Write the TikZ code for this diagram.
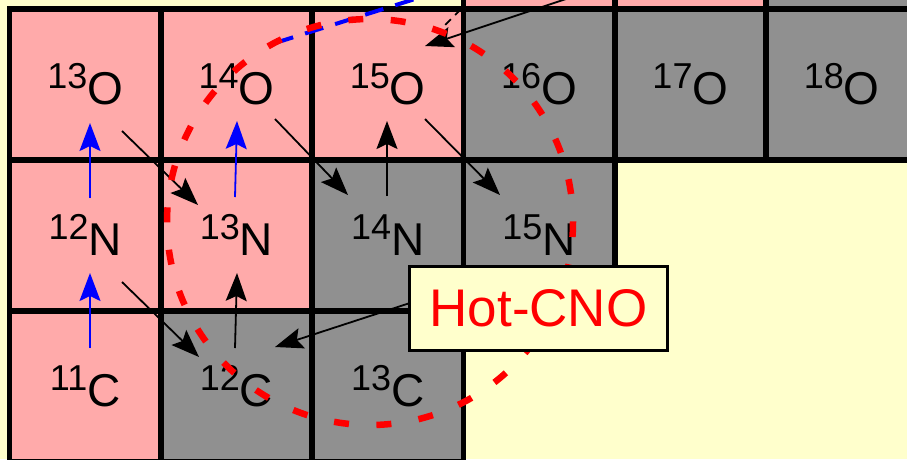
\documentclass[tikz,border=0pt]{standalone}
\usepackage{fontspec}
\setmainfont{Liberation Sans}
\usetikzlibrary{arrows.meta,calc}
\definecolor{Paper}{HTML}{FFFFCC}
\definecolor{Unstable}{HTML}{FFAAAA}
\definecolor{Stable}{HTML}{909090}
\newcommand{\iso}[2]{{\fontsize{36}{36}\selectfont\raisebox{16pt}{#1}}{\fontsize{46}{46}\selectfont #2}}

\begin{document}
\begin{tikzpicture}[
        x=1pt, y=-1pt,
        nuclide/.style={draw=black, line width=5.5pt, minimum width=151.3pt, minimum height=151pt,
          inner sep=0pt, text=black},
        unstable/.style={nuclide, fill=Unstable},
        stable/.style={nuclide, fill=Stable},
        arrow/.style={-{Stealth[length=28pt, width=21pt, inset=5pt]}, line width=1.8pt, draw=black},
        bluearrow/.style={arrow, draw=blue, fill=blue},
        breakout/.style={line width=4pt, draw=blue, dash pattern=on 19pt off 12.5pt},
        hotloop/.style={line width=6.5pt, draw=red, dash pattern=on 15pt off 27.5pt},
        tag/.style={draw=black, line width=2.7pt, fill=Paper, minimum width=258pt, minimum height=84pt,
          text=red, font=\fontsize{53}{53}\selectfont}
      ]
        \useasboundingbox (0,0) rectangle (907,459);
        \clip (0,0) rectangle (907,459);
        \fill[Paper] (0,0) rectangle (907,459);
        % fluorine row (cut off at the top)
        \node[unstable] (F17) at (539.1,-66.7) {};
        \node[unstable] (F18) at (690.4,-66.7) {};
        \node[stable] (F19) at (841.7,-66.7) {};
        % oxygen
        \node[unstable] (O13) at (85.2,84.3) {\iso{13}{O}};
        \node[unstable] (O14) at (236.5,84.3) {\iso{14}{O}};
        \node[unstable] (O15) at (387.8,84.3) {\iso{15}{O}};
        \node[stable] (O16) at (539.1,84.3) {\iso{16}{O}};
        \node[stable] (O17) at (690.4,84.3) {\iso{17}{O}};
        \node[stable] (O18) at (841.7,84.3) {\iso{18}{O}};
        % nitrogen
        \node[unstable] (N12) at (85.2,235.3) {\iso{12}{N}};
        \node[unstable] (N13) at (236.5,235.3) {\iso{13}{N}};
        \node[stable] (N14) at (387.8,235.3) {\iso{14}{N}};
        \node[stable] (N15) at (539.1,235.3) {\iso{15}{N}};
        % carbon
        \node[unstable] (C11) at (85.2,386.3) {\iso{11}{C}};
        \node[stable] (C12) at (236.5,386.3) {\iso{12}{C}};
        \node[stable] (C13) at (387.8,386.3) {\iso{13}{C}};
        \coordinate (alpha) at (450,-12);
        % breakout line
        \draw[breakout] ($(O14)+(38.5,-41.3)$) -- (alpha);
        % reactions
        \draw[bluearrow] ($(C11)+(4.8,-38.3)$) -- ($(N12)+(4.8,37.7)$);
        \draw[bluearrow] ($(N12)+(4.8,-37.3)$) -- ($(O13)+(4.8,38.7)$);
        \draw[bluearrow] ($(N13)+(-1.5,-38.3)$) -- ($(O14)+(0.5,36.7)$);
        \draw[arrow] ($(O13)+(36.8,46.7)$) -- ($(N13)+(-38.5,-30.3)$);
        \draw[arrow] ($(N12)+(36.8,46.7)$) -- ($(C12)+(-37.5,-29.3)$);
        \draw[arrow] ($(C12)+(-1.5,-38.3)$) -- ($(N13)+(0.5,37.7)$);
        \draw[arrow] ($(O14)+(38.5,34.7)$) -- ($(N14)+(-39.8,-40.3)$);
        \draw[arrow] ($(N14)+(-0.8,-39.3)$) -- ($(O15)+(-0.8,36.7)$);
        \draw[arrow] ($(O15)+(37.2,34.7)$) -- ($(N15)+(-39.1,-40.3)$);
        \draw[arrow] ($(N15)+(-34.1,36.7)$) -- ($(C12)+(38.5,-39.3)$);
        \draw[line width=1.8pt, dash pattern=on 8pt off 6pt] ($(O15)+(73,-75)$) -- ($(O15)+(52.2,-54.3)$);
        \draw[arrow] ($(F18)+(-40.4,37.7)$) -- ($(O15)+(37.2,-38.3)$);
        % hot CNO cycle
        \draw[hotloop] ($(N14)+(-17.8,-13.3)$) circle[radius=203];
        \node[tag] (hotcno) at (538.5,308.5) {Hot-CNO};
      \end{tikzpicture}
\end{document}
